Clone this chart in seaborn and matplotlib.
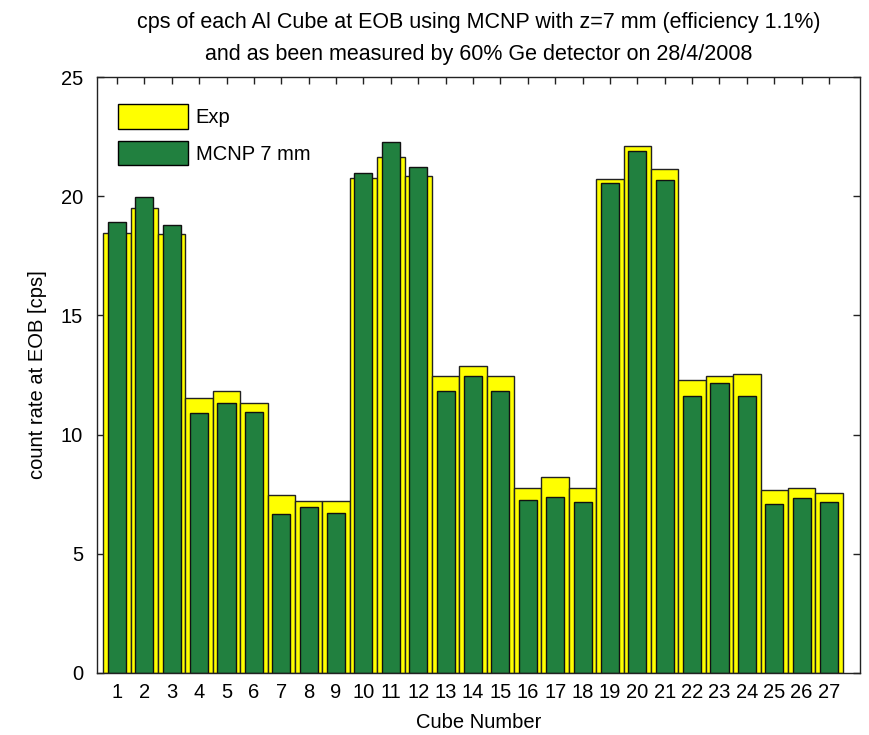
import matplotlib
matplotlib.use("Agg")
import matplotlib.pyplot as plt
from matplotlib.patches import Patch
import seaborn as sns
import pandas as pd

cubes = [str(i) for i in range(1, 28)]
exp_cps = [18.47, 19.5, 18.4, 11.55, 11.84, 11.31, 7.45, 7.23, 7.23,
           20.78, 21.66, 20.85, 12.46, 12.89, 12.46, 7.77, 8.22, 7.77,
           20.71, 22.1, 21.14, 12.29, 12.47, 12.53, 7.68, 7.77, 7.54]
mcnp_cps = [18.9, 19.95, 18.8, 10.89, 11.31, 10.96, 6.66, 6.95, 6.72,
            20.99, 22.26, 21.21, 11.84, 12.46, 11.84, 7.24, 7.40, 7.16,
            20.54, 21.91, 20.68, 11.63, 12.15, 11.63, 7.09, 7.33, 7.16]
yticks = [0, 5, 10, 15, 20, 25]

df = pd.DataFrame({"cube": cubes, "exp": exp_cps, "mcnp": mcnp_cps})

sns.set_style("white")
plt.rcParams['font.family'] = ['Liberation Sans', 'DejaVu Sans']
plt.rcParams['text.color'] = 'black'
plt.rcParams['axes.labelcolor'] = 'black'

FS = 14.5

fig = plt.figure(figsize=(8.69, 7.35), dpi=100)
ax = fig.add_axes([0.1116, 0.0844, 0.8780, 0.8108])

yellow = "#FFFF00"
green = "#21803F"

sns.barplot(data=df, x="cube", y="exp", order=cubes, color=yellow, width=1.0,
            edgecolor="#222222", linewidth=1.0, saturation=1, ax=ax, errorbar=None)
sns.barplot(data=df, x="cube", y="mcnp", order=cubes, color=green, width=0.66,
            edgecolor="#111111", linewidth=1.0, saturation=1, ax=ax, errorbar=None)

ax.set_xlim(-0.73, 27.13)
ax.set_ylim(0, 25)
ax.set_yticks(yticks)
ax.set_yticklabels([str(v) for v in yticks], fontsize=FS)
ax.set_xticks(range(len(cubes)))
ax.set_xticklabels(cubes, fontsize=FS)
ax.tick_params(direction="in", length=5, width=1, top=True, right=True,
               bottom=True, left=True, colors="#222222", labelcolor="black")
ax.tick_params(axis="y", pad=10)
ax.tick_params(axis="x", pad=7)
for s in ax.spines.values():
    s.set_visible(True)
    s.set_color("#222222")
    s.set_linewidth(1.0)

ax.set_xlabel("Cube Number", fontsize=FS, labelpad=8, color="black")
ax.set_ylabel("count rate at EOB [cps]", fontsize=FS, labelpad=10, color="black")
ax.set_title("cps of each Al Cube at EOB using MCNP with z=7 mm (efficiency 1.1%)\n"
             "and as been measured by 60% Ge detector on 28/4/2008",
             fontsize=15.5, pad=12, linespacing=1.7, color="black")

handles = [Patch(facecolor=yellow, edgecolor="black", linewidth=1.0, label="Exp"),
           Patch(facecolor=green, edgecolor="black", linewidth=1.0, label="MCNP 7 mm")]
leg = ax.legend(handles=handles, loc="upper left", frameon=False, fontsize=FS,
                bbox_to_anchor=(21 / 763, 1 - 27 / 596),
                handlelength=3.5, handleheight=1.5, borderaxespad=0.0,
                handletextpad=0.35, labelspacing=0.6, borderpad=0.0)
for t in leg.get_texts():
    t.set_color("black")

fig.savefig("out.png", dpi=100)
